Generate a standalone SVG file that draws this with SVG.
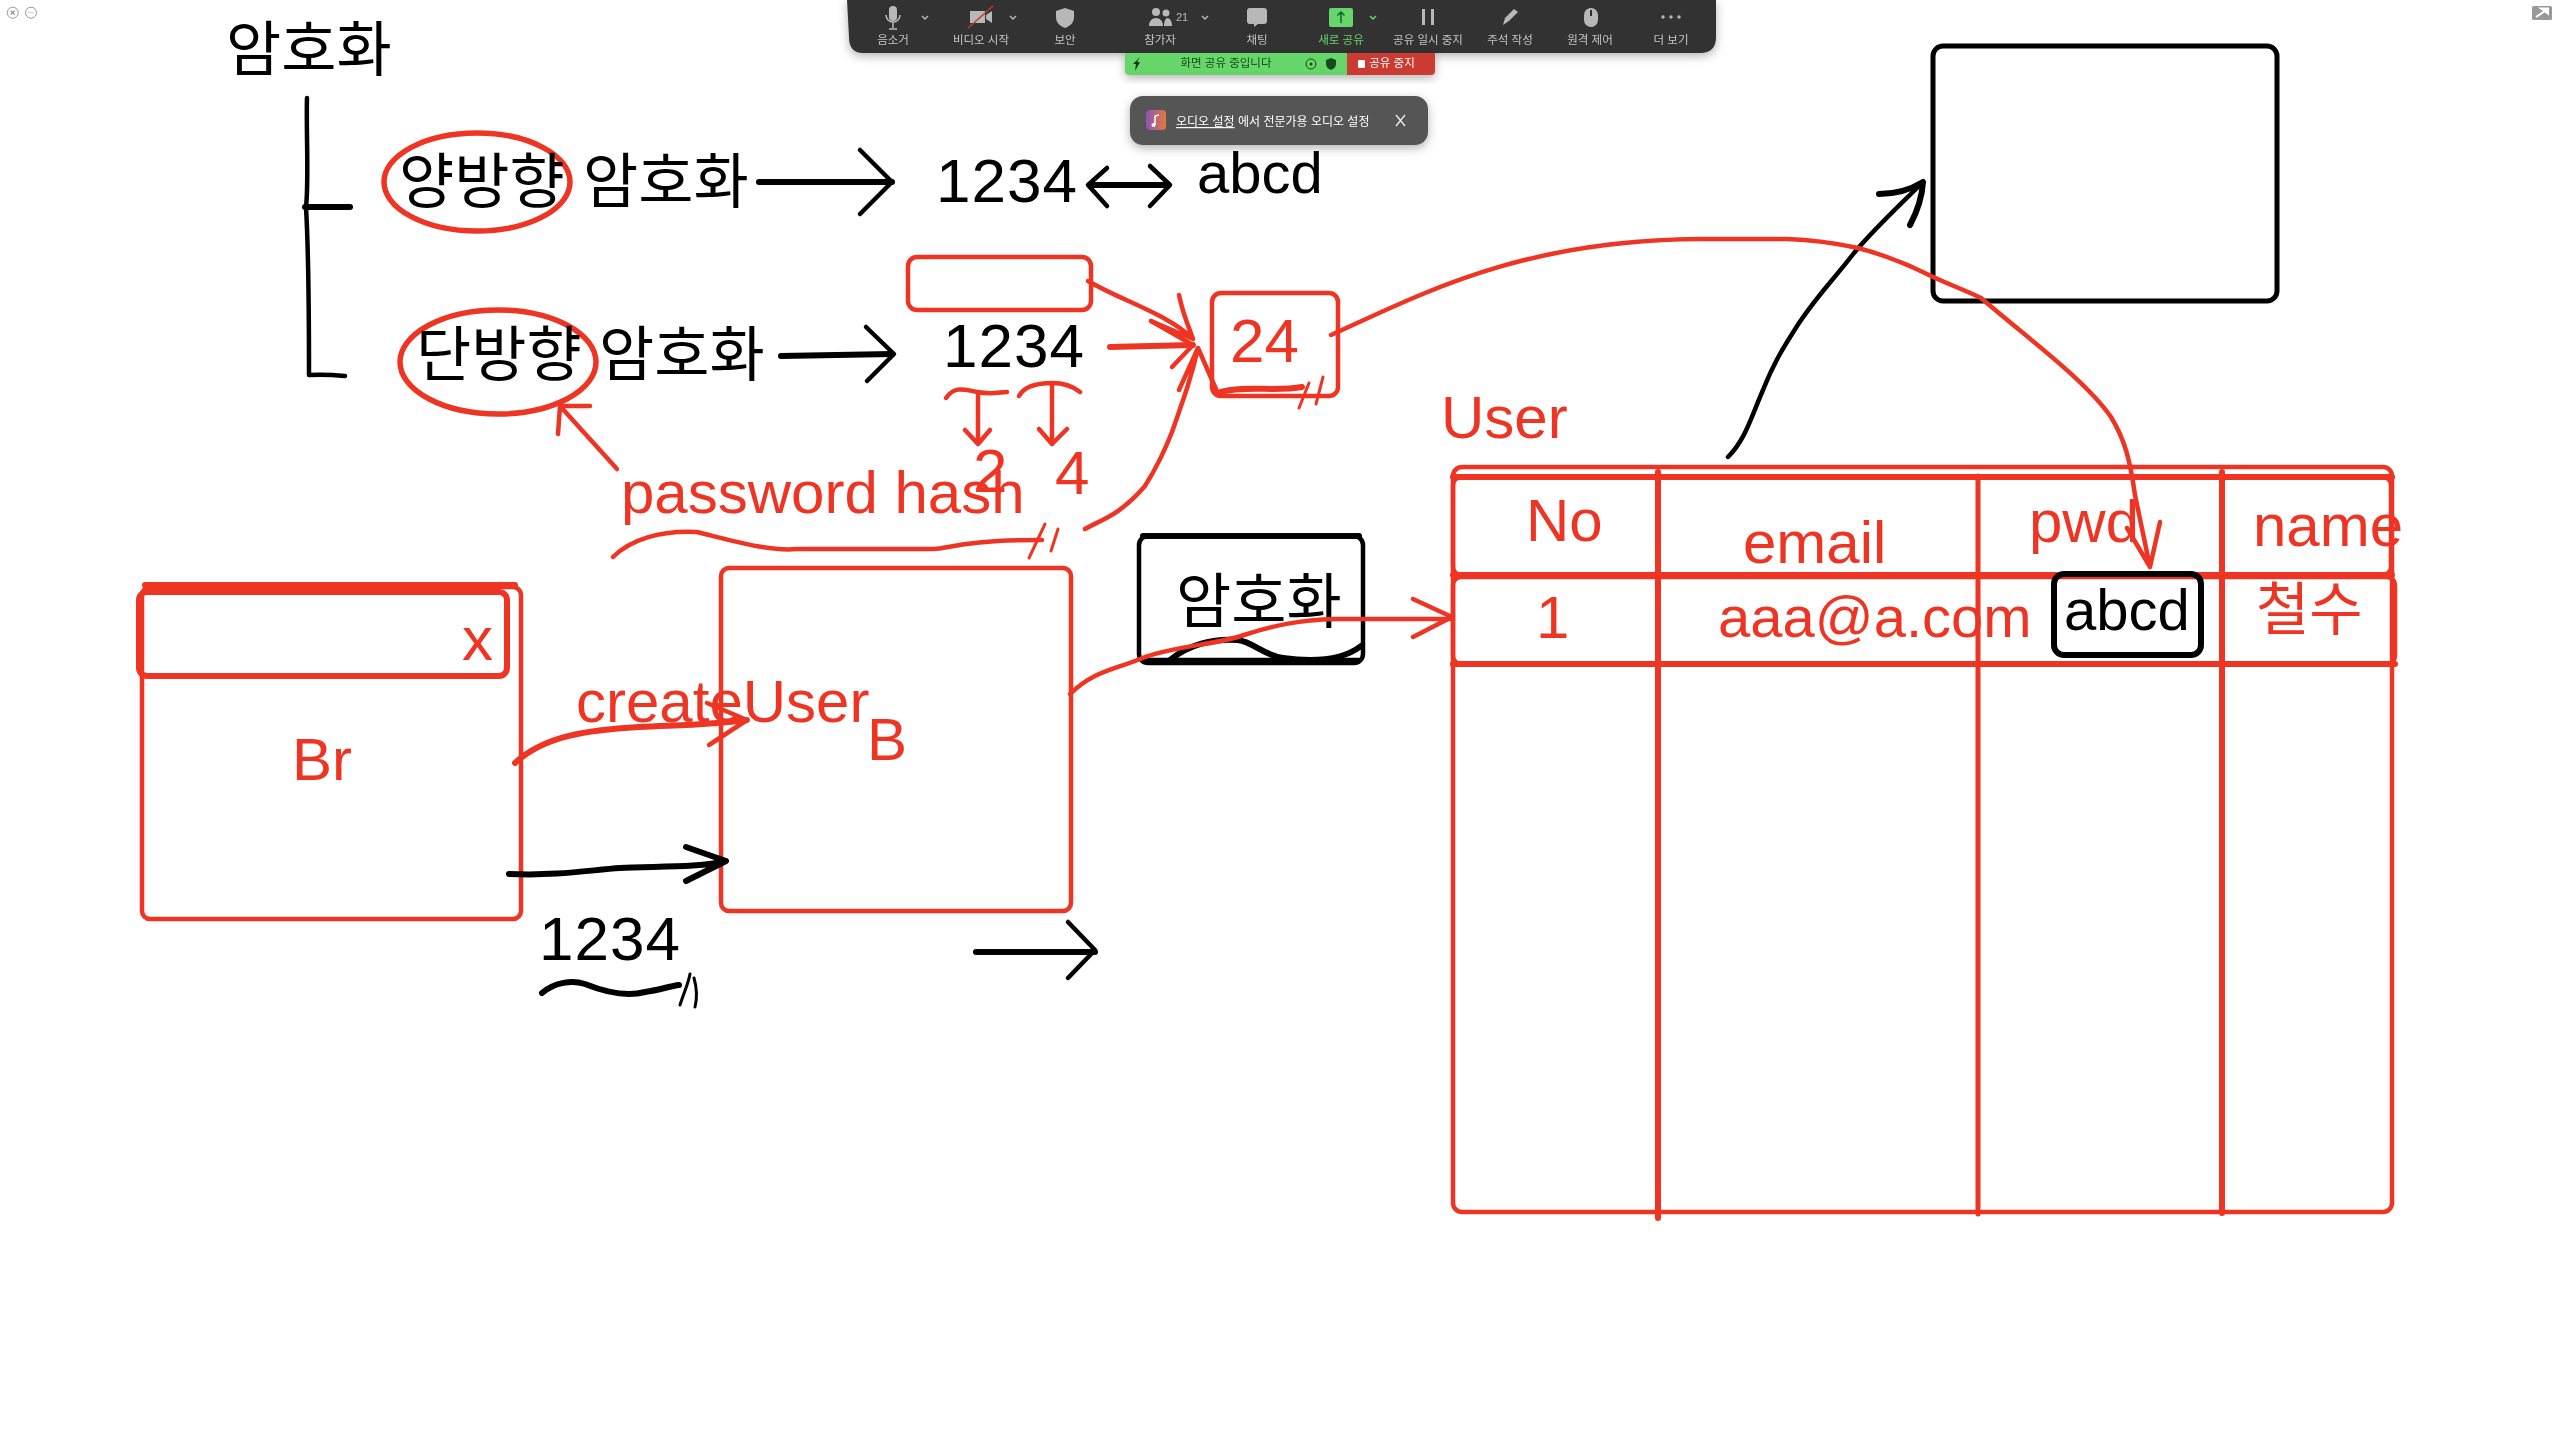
<svg xmlns="http://www.w3.org/2000/svg" width="2560" height="1440" viewBox="0 0 2560 1440">
<style>
text{font-family:"Liberation Sans","Noto Sans CJK KR",sans-serif}
.k{fill:#000}.r{fill:#ee3524}
.s60{font-size:60px}.s58{font-size:58px}.s62{font-size:62px}
.lk,.lr{fill:none;stroke-linecap:round;stroke-linejoin:round}
.lk{stroke:#000;stroke-width:4.5}.lr{stroke:#ee3524;stroke-width:4.5}
.t5{stroke-width:6}.t3{stroke-width:3}
.tb{font-size:11.5px;fill:#c4c4c4;text-anchor:middle}
.ic{fill:#b8b8b8}.chev{fill:none;stroke:#b8b8b8;stroke-width:1.5}
</style>
<defs>
<filter id="sh" x="-5%" y="-30%" width="110%" height="170%"><feDropShadow dx="0" dy="3" stdDeviation="5" flood-color="#000" flood-opacity=".3"/></filter>
<linearGradient id="mus" x1="0" x2="1"><stop offset="0" stop-color="#8a55b8"/><stop offset="1" stop-color="#e5783a"/></linearGradient>
</defs>
<rect width="2560" height="1440" fill="#fff"/>

<g id="window-controls">
<circle cx="12.700" cy="12.700" r="5.500" fill="none" stroke="#999" stroke-width="1"/>
<path d="M10.700 10.700l4 4M14.700 10.700l-4 4" stroke="#888" stroke-width="1.200"/>
<circle cx="31" cy="12.700" r="5.500" fill="none" stroke="#999" stroke-width="1"/>
<path d="M28.500 12.700h.8M30.600 12.700h.8M32.700 12.700h.8" stroke="#888" stroke-width="1"/>
<rect x="2532" y="6" width="20" height="14" rx="1.500" fill="#999"/>
<path d="M2536 17l9-6M2541 8.500h7v5z" stroke="#fff" stroke-width="2" fill="#fff"/>
</g>

<g id="title"><text class="k" x="226" y="71" style="font-size:60px">암호화</text></g>

<g id="bracket">
<path class="lk" d="M307 98C306 130 309 180 306 207C309 260 309 320 309 375Q325 374 345 376"/>
<path class="lk t5" d="M305 207H350"/>
</g>

<g id="bidirectional">
<ellipse class="lr" cx="477" cy="182" rx="93" ry="49" style="stroke-width:5.500"/>
<text class="k s60" x="399" y="203">양방향</text>
<text class="k s60" x="583" y="203">암호화</text>
</g>
<g id="bidirectional-values">
<text class="k s62" x="936" y="202" textLength="141">1234</text>
<text class="k s58" x="1197" y="193">abcd</text>
</g>

<g id="unidirectional">
<ellipse class="lr" cx="498" cy="362" rx="98" ry="52" style="stroke-width:5.500"/>
<text class="k s60" x="416" y="376">단방향</text>
<text class="k s60" x="599" y="376">암호화</text>
</g>
<g id="hash-input"><text class="k s62" x="943" y="367" textLength="141">1234</text></g>
<g id="salt-box"><rect class="lr" x="908" y="257" width="183" height="53" rx="9"/></g>
<g id="hash-result">
<rect class="lr" x="1212" y="293" width="126" height="103" rx="9"/>
<text class="r s62" x="1230" y="362">24</text>
</g>
<g id="digits">
<text class="r s62" x="973" y="492">2</text>
<text class="r s62" x="1055" y="494">4</text>
</g>
<g id="password-hash"><text class="r s60" x="621" y="513">password hash</text></g>

<g id="browser">
<rect class="lr" x="142" y="587" width="379" height="332" rx="8"/>
<rect class="lr t5" x="139" y="592" width="368" height="84" rx="8"/>
<path class="lr t5" d="M145 585H515"/>
<text class="r s62" x="462" y="660">x</text>
<text class="r s60" x="292" y="780">Br</text>
</g>
<g id="backend">
<rect class="lr" x="721" y="568" width="350" height="343" rx="8"/>
<text class="r s60" x="867" y="760">B</text>
</g>
<g id="create-user"><text class="r s60" x="576" y="722">createUser</text></g>
<g id="plain-value"><text class="k s62" x="539" y="960" textLength="141">1234</text></g>
<g id="encrypt-box">
<rect class="lk" x="1139" y="536" width="224" height="127" rx="9"/>
<path class="lk t5" d="M1143 536H1359"/>
<text class="k s60" x="1176" y="623">암호화</text>
<path class="lk t5" d="M1170 660C1188 645 1213 638 1238 640C1253 642 1263 655 1283 658C1313 662 1343 660 1361 646"/>
<path class="lk" d="M1143 660H1359"/>
</g>

<g id="user-table" transform="translate(-5 0)">
<text class="r s60" x="1446" y="438">User</text>
<rect class="lr" x="1458" y="467" width="939" height="745" rx="9"/>
<path class="lr t5" d="M1458 477H2397"/>
<rect class="lr" x="1458" y="477" width="938" height="98" rx="8"/>
<rect class="lr" x="1458" y="577" width="942" height="87" rx="8"/>
<path class="lr t5" d="M1458 575H2397M1458 664H2400"/>
<path class="lr t5" d="M1663 472V1218M2227 472V1213"/>
<path class="lr" d="M1983 476V1214" style="stroke-width:5"/>
<text class="r s60" x="1531" y="541">No</text>
<text class="r s60" x="1748" y="563">email</text>
<text class="r s60" x="2034" y="542">pwd</text>
<text class="r s60" x="2258" y="546">name</text>
<text class="r s60" x="1541" y="638">1</text>
<text class="r s58" x="1723" y="637">aaa@a.com</text>
<text class="r s58" x="2261" y="630">철수</text>
<rect class="lk t5" x="2059" y="574" width="147" height="81" rx="10"/>
<text class="k s58" x="2069" y="630">abcd</text>
</g>

<g id="blank-box"><rect class="lk" x="1933" y="46" width="344" height="255" rx="10" style="stroke-width:5"/></g>

<g id="zoom-toolbar" filter="url(#sh)">
<path d="M847 0H1716V37Q1716 53 1700 53H863Q849 53 849 37Z" fill="#333"/>
<text class="tb" x="893" y="44">음소거</text>
<text class="tb" x="981" y="44">비디오 시작</text>
<text class="tb" x="1065" y="44">보안</text>
<text class="tb" x="1160" y="44">참가자</text>
<text class="tb" x="1257" y="44">채팅</text>
<text class="tb" x="1341" y="44" style="fill:#66d66a">새로 공유</text>
<text class="tb" x="1428" y="44">공유 일시 중지</text>
<text class="tb" x="1510" y="44">주석 작성</text>
<text class="tb" x="1590" y="44">원격 제어</text>
<text class="tb" x="1671" y="44">더 보기</text>
<rect class="ic" x="889" y="6" width="8" height="15" rx="4"/>
<path class="chev" d="M886 15a7 7 0 0 0 14 0M893 22v6M889 29h8"/>
<path class="chev" d="M922 16l3 3 3-3M1010 16l3 3 3-3M1202 16l3 3 3-3"/>
<path class="ic" d="M970 11h15v12h-15zM986 15l6-4v12l-6-4z"/>
<path d="M968 28L993 6" stroke="#c0392b" stroke-width="1.500"/>
<path class="ic" d="M1065 8l9 3v6c0 6-4 9-9 11c-5-2-9-5-9-11v-6z"/>
<circle class="ic" cx="1156" cy="12" r="4"/><circle class="ic" cx="1166" cy="13" r="3.500"/>
<path class="ic" d="M1149 26c0-5 3-8 7-8s7 3 7 8zM1164 26c0-4 1-7 3-8c3 0 5 3 5 8z"/>
<text x="1182" y="21" style="font-size:11px;fill:#b8b8b8;text-anchor:middle">21</text>
<path class="ic" d="M1250 8h14q3 0 3 3v10q0 3-3 3h-6l-4 3v-3h-4q-3 0-3-3v-10q0-3 3-3z"/>
<rect x="1329" y="8" width="24" height="19" rx="2" fill="#66d66a"/>
<path d="M1341 23v-11M1337.500 15.500l3.500-3.500 3.500 3.500" fill="none" stroke="#163" stroke-width="1.500"/>
<path d="M1370 16l3 3 3-3" fill="none" stroke="#66d66a" stroke-width="1.500"/>
<path class="ic" d="M1422 9h3v16h-3zM1431 9h3v16h-3z"/>
<path class="ic" d="M1503 25l2-7 9-9 4 3-9 9z"/>
<rect class="ic" x="1584" y="8" width="14" height="19" rx="7"/>
<rect x="1590" y="10" width="2" height="6" fill="#333"/>
<circle class="ic" cx="1663" cy="17" r="1.700"/><circle class="ic" cx="1671" cy="17" r="1.700"/><circle class="ic" cx="1679" cy="17" r="1.700"/>
</g>
<g id="share-status" filter="url(#sh)">
<path d="M1125 53H1347V75H1129Q1125 75 1125 71Z" fill="#66d66a"/>
<path d="M1347 53H1435V71Q1435 75 1431 75H1347Z" fill="#cc3a32"/>
<path d="M1140 57l-7 7h3l-1 7 5-9h-3z" fill="#0d3a12"/>
<text x="1226" y="67" style="font-size:11.500px;fill:#174a1c;text-anchor:middle">화면 공유 중입니다</text>
<circle cx="1311" cy="64" r="5" fill="none" stroke="#174a1c"/><circle cx="1311" cy="64" r="1.500" fill="#174a1c"/>
<path d="M1331 58l5 2v4c0 3-2 5-5 6c-3-1-5-3-5-6v-4z" fill="#174a1c"/>
<rect x="1358" y="60" width="7" height="8" rx="1" fill="#fff"/>
<text x="1392" y="67" style="font-size:11.500px;fill:#fff;text-anchor:middle">공유 중지</text>
</g>
<g id="audio-popup" filter="url(#sh)">
<rect x="1130" y="96" width="298" height="49" rx="13" fill="#555"/>
<rect x="1146" y="110" width="20" height="20" rx="4" fill="url(#mus)"/>
<path d="M1155 125v-9l4-1" fill="none" stroke="#fff" stroke-width="1.500"/><circle cx="1153.500" cy="125" r="2" fill="#fff"/>
<text x="1176" y="126" style="font-size:12px;fill:#fff;text-decoration:underline">오디오 설정</text>
<text x="1238" y="126" style="font-size:12px;fill:#fff">에서 전문가용 오디오 설정</text>
<path d="M1396 115l9 11M1405 115l-9 11" stroke="#eee" stroke-width="1.300"/>
</g>

<g id="connectors">
<!-- black -->
<path class="lk t5" d="M759 182H892"/><path class="lk" d="M860 150L892 182L860 214"/>
<path class="lk t5" d="M1090 185H1168"/><path class="lk" d="M1107 168L1088 185L1107 206M1150 166L1170 185L1150 206"/>
<path class="lk t5" d="M781 356L892 354"/><path class="lk" d="M866 327L894 354L867 381"/>
<path class="lk t5" d="M509 874C560 876 590 870 620 868C650 866 700 868 726 861M686 847L726 861L686 881"/>
<path class="lk" d="M1068 922L1095 950L1068 978"/><path class="lk t5" d="M976 952H1095"/>
<path class="lk t5" d="M542 993C555 982 572 980 585 984C610 994 630 996 645 992C660 990 670 986 679 985"/>
<path class="lk t3" d="M680 1005C684 992 688 985 690 974M695 1007C698 995 696 985 694 978"/>
<path class="lk" d="M1728 457C1745 440 1750 420 1763 390C1775 360 1785 345 1799 323C1820 292 1835 278 1854 253C1875 228 1900 205 1923 182"/>
<path class="lk t5" d="M1879 194C1895 194 1910 190 1923 182C1922 198 1917 212 1910 225"/>
<!-- red -->
<path class="lr" d="M1088 281C1120 300 1170 315 1193 339M1179 295C1183 315 1190 330 1193 339L1151 321"/>
<path class="lr t5" d="M1110 347L1193 345"/><path class="lr" d="M1151 321L1193 345L1172 367"/>
<path class="lr" d="M1085 529C1100 520 1118 517 1145 486C1155 470 1165 450 1172 432C1185 395 1192 375 1198 348L1179 390M1198 348L1219 396"/>
<path class="lr t5" d="M1221 392C1245 385 1275 392 1302 387"/>
<path class="lr t3" d="M1299 408L1309 383M1316 404L1323 377"/>
<path class="lr" d="M1331 335C1420 295 1520 240 1700 239H1787C1815 240 1835 243 1858 248C1885 255 1905 263 1929 275C1945 283 1965 290 1981 298C2030 340 2085 380 2111 417C2125 440 2130 460 2135 495L2150 567M2127 528L2150 567L2160 522"/>
<path class="lr" d="M946 398C955 385 965 390 978 392C990 395 1000 392 1007 392M978 392V444M965 430L978 444L990 430"/>
<path class="lr" d="M1019 396C1025 385 1040 383 1052 383C1065 383 1075 388 1080 392M1052 383V444M1039 429L1052 444L1067 429"/>
<path class="lr" d="M617 469L560 406M590 406L560 406L558 434"/>
<path class="lr" d="M613 557C630 540 660 530 697 532C730 540 770 552 797 549H934C950 548 965 540 1042 540"/>
<path class="lr t3" d="M1029 558L1045 524M1051 551L1058 529"/>
<path class="lr t5" d="M515 763C545 735 590 730 639 727C680 725 710 725 747 720"/><path class="lr" d="M707 703L747 720L709 745"/>
<path class="lr" d="M1070 694C1095 670 1115 670 1145 657C1180 645 1215 645 1244 635C1275 625 1300 620 1335 619H1452M1413 599L1452 617L1413 637"/>
</g>
</svg>
